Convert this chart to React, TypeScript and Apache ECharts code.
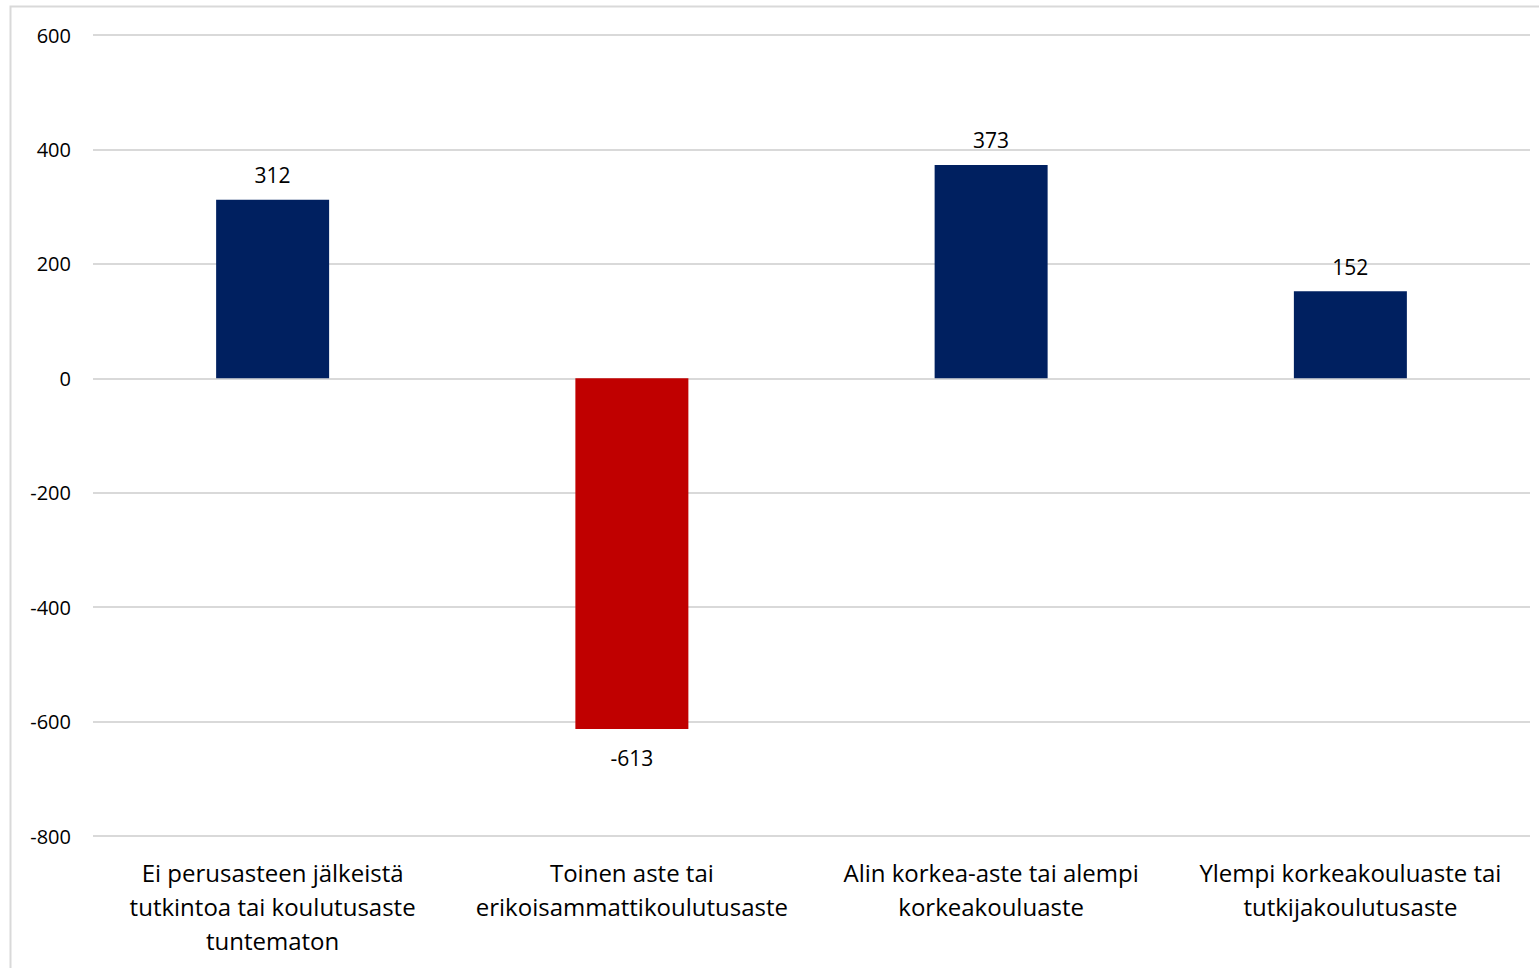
import React, { useEffect, useRef } from "react";
import * as echarts from "echarts";

const categories = [
  "Ei perusasteen jälkeistä\ntutkintoa tai koulutusaste\ntuntematon",
  "Toinen aste tai\nerikoisammattikoulutusaste",
  "Alin korkea-aste tai alempi\nkorkeakouluaste",
  "Ylempi korkeakouluaste tai\ntutkijakoulutusaste",
];
const values = [312, -613, 373, 152];
const yMin = -800;
const yMax = 600;
const yInterval = 200;

const FONT = "'Open Sans', 'Noto Sans', sans-serif";

export default function App() {
  const ref = useRef<HTMLDivElement>(null);
  useEffect(() => {
    document.body.style.margin = "0";
    const chart = echarts.init(ref.current!, null, { renderer: "svg" });
    chart.setOption({
      animation: false,
      backgroundColor: "#ffffff",
      textStyle: { fontFamily: FONT },
      graphic: [
        {
          type: "rect",
          shape: { x: 10.5, y: 6.5, width: 1600, height: 1000 },
          style: { fill: "none", stroke: "#d9d9d9", lineWidth: 2 },
          silent: true,
        },
      ],
      grid: { left: 93, right: 9, top: 35, bottom: 132, containLabel: false },
      xAxis: {
        type: "category",
        data: categories,
        axisLine: { show: false },
        axisTick: { show: false },
        axisLabel: {
          interval: 0,
          margin: 19,
          fontSize: 24,
          lineHeight: 34,
          color: "#000000",
          fontFamily: FONT,
        },
      },
      yAxis: {
        type: "value",
        min: yMin,
        max: yMax,
        interval: yInterval,
        axisLine: { show: false },
        axisTick: { show: false },
        splitLine: { lineStyle: { color: "#d9d9d9", width: 2 } },
        axisLabel: { fontSize: 20, color: "#000000", margin: 22, fontFamily: FONT },
      },
      series: [
        {
          type: "bar",
          barWidth: 113,
          data: values.map((v) => ({
            value: v,
            itemStyle: { color: v < 0 ? "#c00000" : "#002060" },
            label: {
              show: true,
              position: v < 0 ? "bottom" : "top",
              distance: v < 0 ? 18 : 14,
              fontSize: 21,
              color: "#000000",
              fontFamily: FONT,
            },
          })),
        },
      ],
    });
    return () => chart.dispose();
  }, []);
  return <div ref={ref} style={{ width: 1539, height: 968 }} />;
}
